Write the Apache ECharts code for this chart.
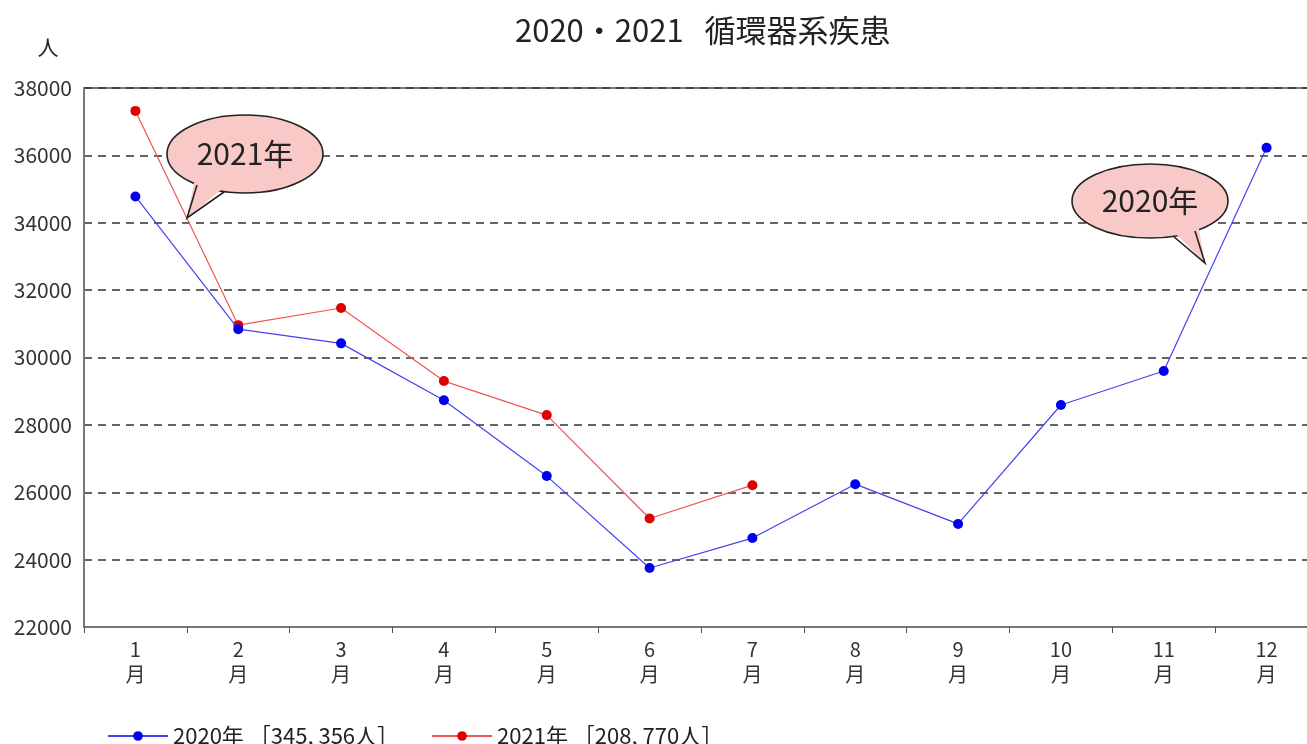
<!DOCTYPE html>
<html>
<head>
<meta charset="utf-8">
<script src="https://cdn.jsdelivr.net/npm/echarts@6/dist/echarts.min.js"></script>
<style>
html,body{margin:0;padding:0;background:#fff;}
#chart{width:1307px;height:744px;}
</style>
</head>
<body>
<div id="chart"></div>
<script>
const titleText = '2020・2021   循環器系疾患';
const yUnit = '人';
const months = ['1\n月','2\n月','3\n月','4\n月','5\n月','6\n月','7\n月','8\n月','9\n月','10\n月','11\n月','12\n月'];
const series2020Name = '2020年 ［345, 356人］';
const series2021Name = '2021年 ［208, 770人］';
const values2020 = [34780, 30840, 30420, 28730, 26480, 23750, 24640, 26240, 25060, 28590, 29600, 36226];
const values2021 = [37320, 30960, 31470, 29300, 28290, 25220, 26210];
const callout2021 = '2021年';
const callout2020 = '2020年';

const FONT = '"Noto Sans CJK JP", "Noto Sans", sans-serif';
const chart = echarts.init(document.getElementById('chart'));

function callout(cx, cy, rx, ry, fillPts, tailPts, label) {
  return [
    { type: 'ellipse', shape: { cx, cy, rx, ry }, style: { fill: '#f9c9c7', stroke: '#222', lineWidth: 1.6 }, z: 100 },
    { type: 'polygon', shape: { points: fillPts }, style: { fill: '#f9c9c7' }, z: 101 },
    { type: 'polyline', shape: { points: tailPts }, style: { stroke: '#222', lineWidth: 1.6, fill: null }, z: 102 },
    { type: 'text', x: cx, y: cy, style: { text: label, font: '30px ' + FONT, fill: '#222', align: 'center', verticalAlign: 'middle' }, z: 103 }
  ];
}

chart.setOption({
  animation: false,
  backgroundColor: '#fff',
  title: {
    text: titleText, left: 510, top: 10,
    textStyle: { fontFamily: FONT, fontSize: 31, fontWeight: 'normal', color: '#222' }
  },
  grid: { left: 84, width: 1234, top: 88, bottom: 117, show: true, borderColor: '#777', borderWidth: 2, outerBoundsMode: 'none', containLabel: false },
  legend: {
    left: 102, top: 720, itemWidth: 60, itemHeight: 12, itemGap: 32,
    textStyle: { fontFamily: FONT, fontSize: 22, color: '#222' },
    data: [series2020Name, series2021Name]
  },
  xAxis: {
    type: 'category', data: months, boundaryGap: true,
    axisLine: { lineStyle: { color: '#777', width: 2 } },
    axisTick: { show: true, length: 6, lineStyle: { color: '#555' } },
    axisLabel: { fontFamily: FONT, fontSize: 20, color: '#333', lineHeight: 25, margin: 10 }
  },
  yAxis: {
    type: 'value', min: 22000, max: 38000, interval: 2000,
    name: yUnit, nameLocation: 'end', nameGap: 30,
    nameTextStyle: { fontFamily: FONT, fontSize: 21, color: '#222', padding: [0, 72, 0, 0] },
    axisLine: { show: true, lineStyle: { color: '#777', width: 2 } },
    axisTick: { show: false },
    axisLabel: { fontFamily: FONT, fontSize: 21, color: '#333', margin: 12, formatter: v => String(v) },
    splitLine: { lineStyle: { color: '#333', width: 1.5, type: [8, 6] } }
  },
  series: [
    {
      name: series2020Name, type: 'line', data: values2020,
      symbol: 'circle', symbolSize: 10,
      lineStyle: { color: '#4444ee', width: 1.2 },
      itemStyle: { color: '#0000ee' }, z: 3
    },
    {
      name: series2021Name, type: 'line', data: values2021,
      symbol: 'circle', symbolSize: 10,
      lineStyle: { color: '#e55', width: 1.2 },
      itemStyle: { color: '#e00000' }, z: 2
    }
  ],
  graphic: [
    ...callout(245, 154, 78, 39, [[195, 178], [227, 185], [187, 218]], [[197, 185], [187, 218], [224, 192]], callout2021),
    ...callout(1150, 201, 78, 37, [[1170, 228], [1198, 224], [1205, 263]], [[1173, 236], [1205, 263], [1195, 231]], callout2020)
  ]
});
</script>
</body>
</html>
